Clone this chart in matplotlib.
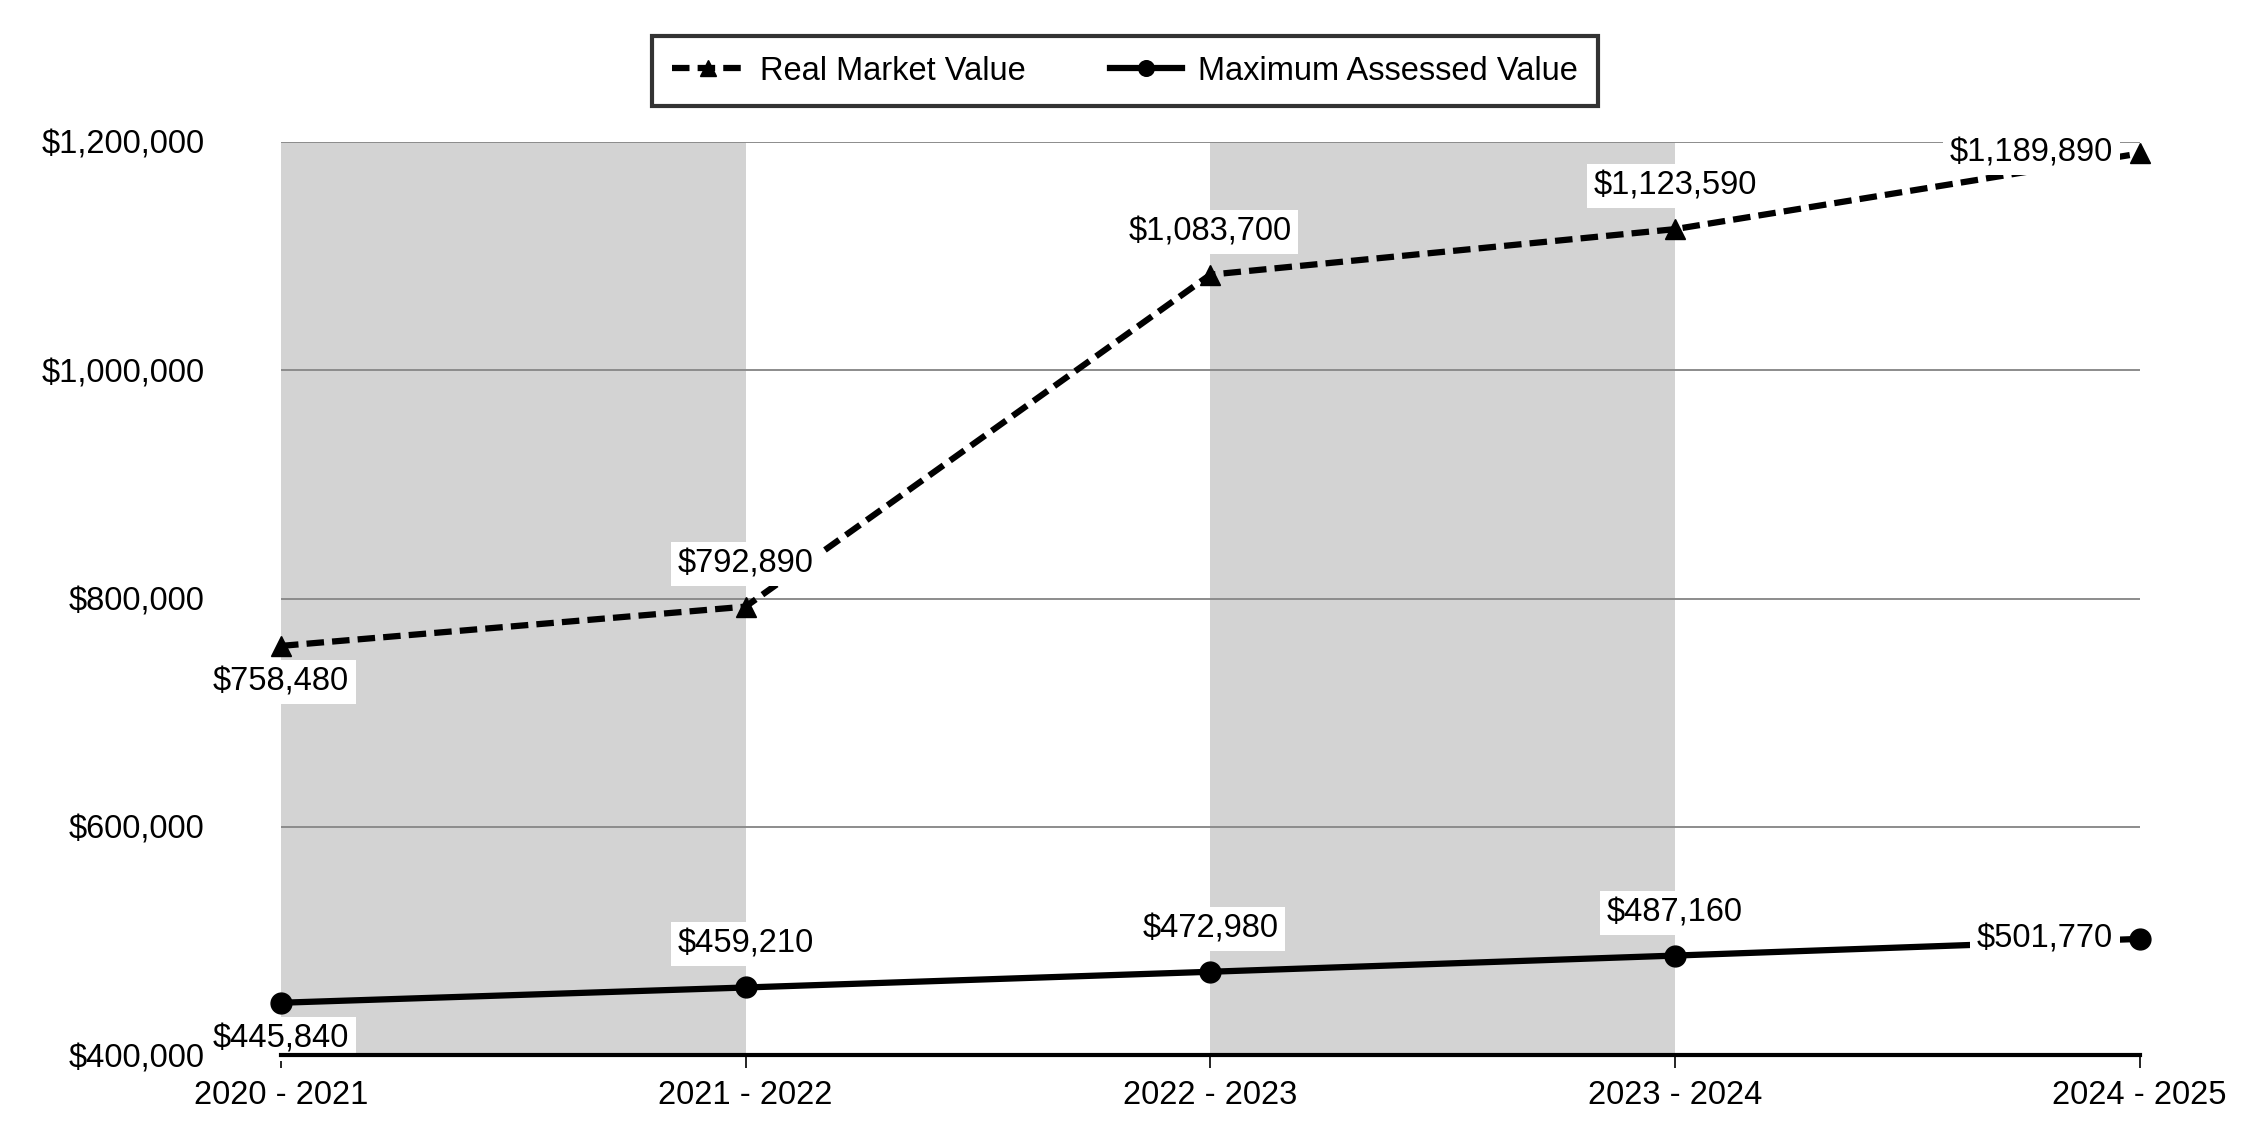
import matplotlib.pyplot as plt
from matplotlib.ticker import FuncFormatter

# ================== DATA ==================
YEARS = ['2020 - 2021', '2021 - 2022', '2022 - 2023', '2023 - 2024', '2024 - 2025']
REAL_MARKET = [758480, 792890, 1083700, 1123590, 1189890]
MAX_ASSESSED = [445840, 459210, 472980, 487160, 501770]
Y_TICKS = [400000, 600000, 800000, 1000000, 1200000]

# label placement per point: 'above', 'below', 'left'
RMV_POS = ['below', 'above', 'above', 'above', 'left']
MAV_POS = ['below', 'above', 'above', 'above', 'left']

plt.rcParams['font.family'] = ['Liberation Sans', 'DejaVu Sans']
FS = 23.5

fig = plt.figure(figsize=(22.5, 11.4), dpi=100)
ax = fig.add_axes([0.1249, 0.0745, 0.8260, 0.8010])

x = list(range(len(YEARS)))

# alternating shaded bands
for i in range(0, len(YEARS) - 1, 2):
    ax.axvspan(x[i], x[i + 1], color='#d3d3d3', lw=0, zorder=0)

for yt in Y_TICKS[1:]:
    ax.axhline(yt, color='#8c8c8c', lw=1.4, zorder=1)

ax.plot(x, REAL_MARKET, color='black', ls=(0, (2.8, 1.3)), lw=4.5, marker='^',
        ms=15, clip_on=False, zorder=3, label='Real Market Value')
ax.plot(x, MAX_ASSESSED, color='black', ls='-', lw=4.5, marker='o',
        ms=15, clip_on=False, zorder=3, label='Maximum Assessed Value')


def etiquetar(xs, ys, posiciones):
    for xi, yi, pos in zip(xs, ys, posiciones):
        if pos == 'above':
            off, ha, va = (0, 31), 'center', 'center'
        elif pos == 'below':
            off, ha, va = (0, -26), 'center', 'center'
        else:
            off, ha, va = (-19, 0), 'right', 'center'
        ax.annotate(f'${yi:,.0f}', (xi, yi), xytext=off, textcoords='offset points',
                    ha=ha, va=va, fontsize=FS, zorder=4, annotation_clip=False,
                    bbox=dict(boxstyle='square,pad=0.2', fc='white', ec='none'))


etiquetar(x, REAL_MARKET, RMV_POS)
etiquetar(x, MAX_ASSESSED, MAV_POS)

ax.set_xlim(x[0], x[-1])
ax.set_ylim(Y_TICKS[0], Y_TICKS[-1])
ax.set_xticks(x)
ax.set_xticklabels(YEARS, fontsize=FS)
ax.set_yticks(Y_TICKS)
ax.yaxis.set_major_formatter(FuncFormatter(lambda v, p: f'${v:,.0f}'))
ax.tick_params(axis='y', length=0, pad=55, labelsize=FS)
ax.tick_params(axis='x', length=9, width=1.2, pad=9, direction='out')

for s in ['left', 'right', 'top']:
    ax.spines[s].set_visible(False)
ax.spines['bottom'].set_linewidth(3)
ax.spines['bottom'].set_zorder(5)

leg = fig.legend(loc='upper center', bbox_to_anchor=(0.5, 1 - 36 / 1140), ncol=2,
                 fontsize=FS, frameon=True, fancybox=False, handlelength=2.2,
                 columnspacing=2.6, borderpad=0.6, handletextpad=0.5,
                 borderaxespad=0, markerscale=0.75)
leg.get_frame().set_edgecolor('black')
leg.get_frame().set_linewidth(3)

fig.savefig('out.png', dpi=100)
